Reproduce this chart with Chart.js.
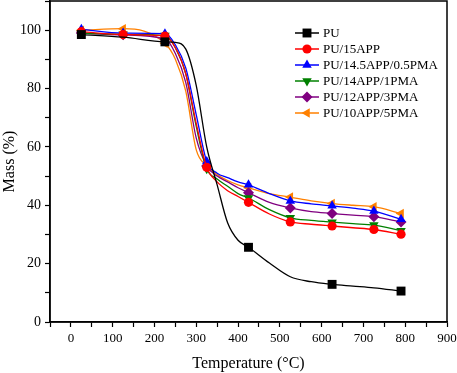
<!DOCTYPE html>
<html>
<head>
<meta charset="utf-8">
<script src="https://cdn.jsdelivr.net/npm/chart.js@4.4.1/dist/chart.umd.min.js"></script>
<style>
  html, body { margin: 0; padding: 0; background: #fff; }
  #wrap { width: 457px; height: 373px; }
</style>
</head>
<body>
<div id="wrap"><canvas id="tgaChart"></canvas></div>
<script>
// temperatures (°C) where the curves are sampled
var temps = [25, 125, 225, 250, 275, 300, 325, 350, 375, 400, 425, 475, 525, 575, 625, 675, 725, 790];

var massPU       = [98.5, 97.6, 96.0, 95.8, 93.5, 81.0, 60.0, 47.0, 34.0, 28.0, 25.6, 20.2, 15.5, 13.8, 12.9, 12.3, 11.7, 10.6];
var mass15APP    = [99.5, 98.5, 98.0, 94.0, 85.0, 68.0, 53.0, 48.0, 45.0, 43.0, 41.0, 37.0, 34.3, 33.5, 32.9, 32.3, 31.7, 30.1];
var mass145APP   = [100.3, 99.0, 98.8, 95.0, 87.0, 71.0, 55.0, 51.0, 49.5, 48.0, 47.0, 44.0, 41.5, 40.5, 39.8, 39.0, 38.0, 35.2];
var mass14APP    = [99.0, 98.6, 98.2, 94.0, 85.0, 67.0, 52.5, 49.0, 46.5, 44.0, 42.5, 38.5, 35.7, 34.8, 34.2, 33.7, 33.2, 31.3];
var mass12APP    = [99.0, 98.4, 97.0, 92.0, 82.0, 63.0, 53.5, 50.0, 48.0, 46.0, 44.3, 41.0, 39.1, 37.8, 37.2, 36.6, 36.1, 34.3];
var mass10APP    = [100.0, 100.5, 95.5, 90.0, 79.0, 59.0, 53.5, 50.5, 48.5, 47.0, 46.0, 44.0, 42.8, 41.5, 40.6, 40.0, 39.5, 37.2];

var seriesNames = ['PU', 'PU/15APP', 'PU/14.5APP/0.5PMA', 'PU/14APP/1PMA', 'PU/12APP/3PMA', 'PU/10APP/5PMA'];

// temperatures that carry a symbol
var markedTemps   = [25, 125, 225, 325, 425, 525, 625, 725, 790];
var markedTempsPU = [25, 225, 425, 625, 790];

function pts(vals) {
  return temps.map(function (t, i) { return { x: t, y: vals[i] }; });
}
function radii(marked, r) {
  return temps.map(function (t) { return marked.indexOf(t) >= 0 ? r : 0; });
}

function series(label, vals, color, style, r, rot, marked) {
  return {
    label: label,
    data: pts(vals),
    borderColor: color,
    backgroundColor: color,
    borderWidth: 1.3,
    pointStyle: style,
    pointRotation: rot,
    pointRadius: radii(marked, r),
    pointBorderWidth: 0,
    pointHoverRadius: 0,
    cubicInterpolationMode: 'monotone',
    fill: false
  };
}

var datasets = [
  series(seriesNames[0], massPU,     '#000000', 'rect',     6.3, 0,   markedTempsPU),
  series(seriesNames[1], mass15APP,  '#ff0000', 'circle',   4.6, 0,   markedTemps),
  series(seriesNames[2], mass145APP, '#0000ff', 'triangle', 5.5, 0,   markedTemps),
  series(seriesNames[3], mass14APP,  '#008000', 'triangle', 5.5, 180, markedTemps),
  series(seriesNames[4], mass12APP,  '#800080', 'rectRot',  5.5, 0,   markedTemps),
  series(seriesNames[5], mass10APP,  '#ff8000', 'triangle', 5.5, 270, markedTemps)
];

var serif = "'Liberation Serif', 'Times New Roman', serif";

var framePlugin = {
  id: 'frame',
  afterDraw: function (chart) {
    var a = chart.chartArea, ctx = chart.ctx;
    ctx.save();
    ctx.strokeStyle = '#000';
    ctx.lineWidth = 1.5;
    ctx.strokeRect(a.left, a.top, a.right - a.left, a.bottom - a.top);
    ctx.restore();
  }
};

var legendPlugin = {
  id: 'insideLegend',
  afterDraw: function (chart) {
    var ctx = chart.ctx;
    var x0 = 295, x1 = 319, tx = 323, y = 33, step = 16;
    ctx.save();
    ctx.font = '13px ' + serif;
    ctx.textBaseline = 'middle';
    chart.data.datasets.forEach(function (ds, i) {
      var yy = y + i * step;
      ctx.strokeStyle = ds.borderColor;
      ctx.lineWidth = 1.5;
      ctx.beginPath();
      ctx.moveTo(x0, yy);
      ctx.lineTo(x1, yy);
      ctx.stroke();
      ctx.fillStyle = ds.backgroundColor;
      Chart.helpers.drawPoint(ctx, {
        pointStyle: ds.pointStyle,
        radius: Math.max.apply(null, ds.pointRadius),
        rotation: ds.pointRotation,
        borderWidth: 0
      }, (x0 + x1) / 2, yy);
      ctx.fillStyle = '#000';
      ctx.fillText(ds.label, tx, yy + 1);
    });
    ctx.restore();
  }
};

new Chart(document.getElementById('tgaChart'), {
  type: 'line',
  data: { datasets: datasets },
  options: {
    animation: false,
    responsive: true,
    maintainAspectRatio: false,
    layout: { autoPadding: false, padding: { top: 1, right: 10, left: 0, bottom: 0 } },
    plugins: {
      legend: { display: false },
      tooltip: { enabled: false }
    },
    scales: {
      x: {
        type: 'linear',
        min: -50,
        max: 900,
        border: { color: '#000', width: 1.5 },
        grid: { drawOnChartArea: false, drawTicks: true, tickLength: 5, color: '#000', tickWidth: 1.2 },
        ticks: {
          stepSize: 50,
          autoSkip: false,
          maxRotation: 0,
          padding: 4,
          color: '#000',
          font: { family: serif, size: 13 },
          callback: function (v) { return v % 100 === 0 ? v : ''; }
        },
        title: {
          display: true,
          text: 'Temperature (°C)',
          color: '#000',
          font: { family: serif, size: 16 },
          padding: { top: 4, bottom: 0 }
        },
        afterFit: function (s) {
          s.height = 51;
          s.paddingLeft = 0;
          s.paddingRight = 0;
        }
      },
      y: {
        min: 0,
        max: 110,
        border: { color: '#000', width: 1.5 },
        grid: { drawOnChartArea: false, drawTicks: true, tickLength: 5, color: '#000', tickWidth: 1.2 },
        ticks: {
          stepSize: 10,
          autoSkip: false,
          padding: 4,
          color: '#000',
          font: { family: serif, size: 14 },
          callback: function (v) { return (v % 20 === 0 && v <= 100) ? v : ''; }
        },
        title: {
          display: true,
          text: 'Mass (%)',
          color: '#000',
          font: { family: serif, size: 16 },
          padding: { top: 0, bottom: 4 }
        },
        afterFit: function (s) {
          s.width = 50;
          s.paddingTop = 0;
          s.paddingBottom = 0;
        }
      }
    }
  },
  plugins: [framePlugin, legendPlugin]
});
</script>
</body>
</html>
